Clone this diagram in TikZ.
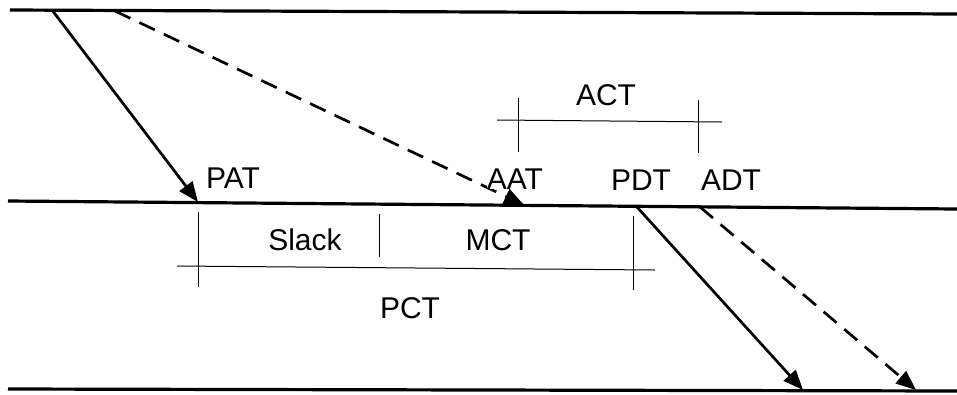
\documentclass[tikz,border=0pt]{standalone}
\usepackage{fontspec}
\setmainfont{Liberation Sans}
\usetikzlibrary{arrows.meta}
\tikzset{
  rail/.style={line width=3.2pt},
  msg/.style={line width=2.7pt,-{Triangle[length=20pt,width=16pt]}},
  late/.style={msg,dash pattern=on 17pt off 10pt},
  dim/.style={line width=1pt},
  lbl/.style={font=\fontsize{30}{33}\selectfont,inner sep=0pt}
}
\begin{document}
\begin{tikzpicture}[x=1pt,y=-1pt]
\useasboundingbox (0,0) rectangle (957,394);
% three time lines
\coordinate (t1) at (10,10);   \coordinate (t2) at (957,14);
\coordinate (m1) at (8,201);   \coordinate (m2) at (957,209);
\coordinate (b1) at (8,389);   \coordinate (b2) at (957,391);
\draw[rail] (t1) -- (t2);
\draw[rail] (m1) -- (m2);
\draw[rail] (b1) -- (b2);
% planned and actual arrivals
\coordinate (pa0) at (52,10);  \coordinate (pa1) at (198,202);
\coordinate (aa0) at (115,11); \coordinate (aa1) at (524,205);
\draw[msg]  (pa0) -- (pa1);
\draw[late] (aa0) -- (aa1);
% planned and actual departures
\coordinate (pd0) at (636,206); \coordinate (pd1) at (803,390);
\coordinate (ad0) at (700,207); \coordinate (ad1) at (916,390);
\draw[msg]  (pd0) -- (pd1);
\draw[late] (ad0) -- (ad1);
% event labels
\node[lbl] (PAT) at (233,178) {PAT};
\node[lbl,fill=white] (AAT) at (515,179) {AAT};
\node[lbl] (PDT) at (641,180) {PDT};
\node[lbl] (ADT) at (731,180) {ADT};
% actual connection time
\coordinate (c1) at (497,120); \coordinate (c2) at (722,122);
\draw[dim] (c1) -- (c2);
\draw[dim] (518,98) -- (518,152);
\draw[dim] (698,100) -- (698,153);
\node[lbl] (ACT) at (606,95) {ACT};
% planned connection time
\coordinate (p1) at (177,266); \coordinate (p2) at (655,270);
\draw[dim] (p1) -- (p2);
\draw[dim] (198,212) -- (198,287);
\draw[dim] (379,214) -- (379,257);
\draw[dim] (633,216) -- (633,290);
\node[lbl] (Slack) at (305,240) {Slack};
\node[lbl] (MCT) at (498,240) {MCT};
\node[lbl] (PCT) at (410,308) {PCT};
\end{tikzpicture}
\end{document}
